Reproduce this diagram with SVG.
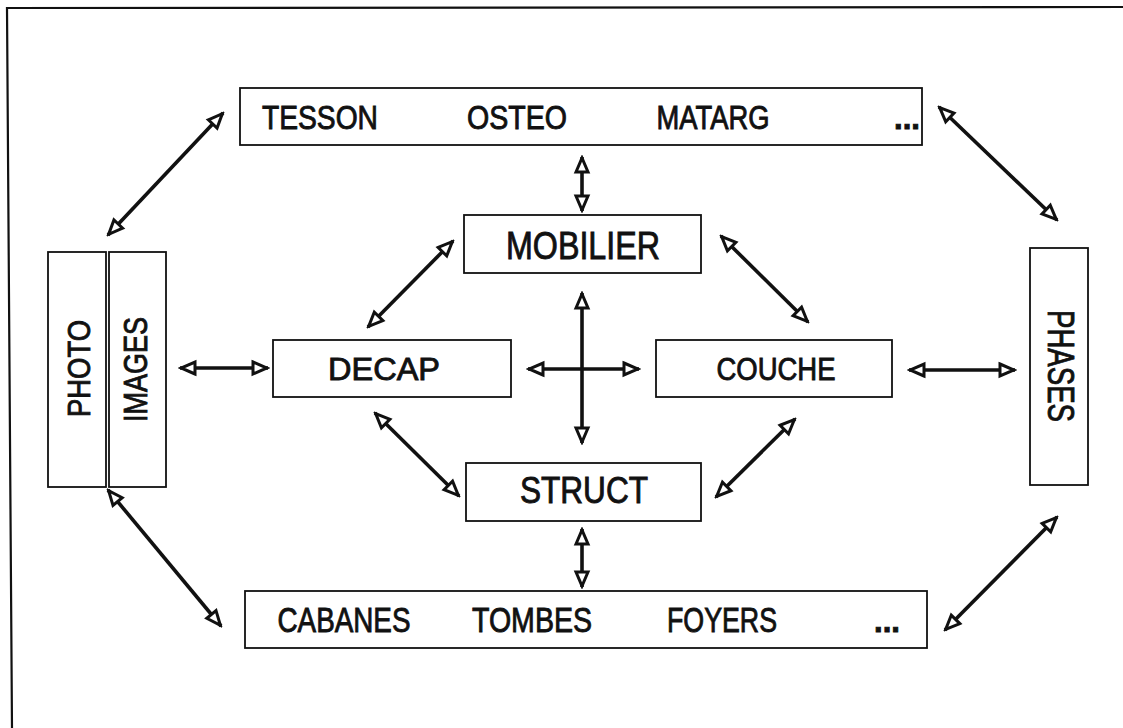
<svg xmlns="http://www.w3.org/2000/svg" width="1123" height="728" viewBox="0 0 1123 728">
<style>
.box{fill:#fff;stroke:#111;stroke-width:1.8}
.t{font-family:"Liberation Sans",Arial,sans-serif;fill:#111;stroke:#111;stroke-width:0.9;text-anchor:middle}
.frame{fill:none;stroke:#111;stroke-width:2.2}
</style>
<defs>
<marker id="ah" viewBox="0 0 20 18" refX="18" refY="9" markerWidth="20" markerHeight="18" markerUnits="userSpaceOnUse" orient="auto-start-reverse">
<path d="M3,3 L17,9 L3,15 Z" fill="#fff" stroke="#111" stroke-width="3" stroke-linejoin="miter"/>
</marker>
</defs>
<rect width="1123" height="728" fill="#fff"/>
<path class="frame" d="M1123,7 L7,8 L12,728"/>

<g id="top-box">
<rect class="box" x="240" y="88" width="682" height="57"/>
<text class="t" x="320" y="129" font-size="34" textLength="116" lengthAdjust="spacingAndGlyphs">TESSON</text>
<text class="t" x="517" y="129" font-size="34" textLength="100" lengthAdjust="spacingAndGlyphs">OSTEO</text>
<text class="t" x="713" y="129" font-size="34" textLength="113" lengthAdjust="spacingAndGlyphs">MATARG</text>
<text class="t" x="907" y="129" font-size="31" font-weight="bold">...</text>
</g>
<g id="mobilier">
<rect class="box" x="464" y="215" width="237" height="58"/>
<text class="t" x="583" y="259" font-size="39" textLength="154" lengthAdjust="spacingAndGlyphs">MOBILIER</text>
</g>
<g id="decap">
<rect class="box" x="273" y="340" width="238" height="57"/>
<text class="t" x="384" y="380" font-size="32" textLength="112" lengthAdjust="spacingAndGlyphs">DECAP</text>
</g>
<g id="couche">
<rect class="box" x="656" y="340" width="236" height="57"/>
<text class="t" x="776" y="380" font-size="32" textLength="119" lengthAdjust="spacingAndGlyphs">COUCHE</text>
</g>
<g id="struct">
<rect class="box" x="466" y="463" width="235" height="58"/>
<text class="t" x="584" y="503" font-size="36" textLength="128" lengthAdjust="spacingAndGlyphs">STRUCT</text>
</g>
<g id="bottom-box">
<rect class="box" x="245" y="591" width="682" height="57"/>
<text class="t" x="344" y="632" font-size="35" textLength="133" lengthAdjust="spacingAndGlyphs">CABANES</text>
<text class="t" x="532" y="632" font-size="35" textLength="120" lengthAdjust="spacingAndGlyphs">TOMBES</text>
<text class="t" x="722" y="632" font-size="35" textLength="110" lengthAdjust="spacingAndGlyphs">FOYERS</text>
<text class="t" x="887" y="632" font-size="31" font-weight="bold">...</text>
</g>
<g id="photo">
<rect class="box" x="48" y="252" width="58" height="235"/>
<text class="t" transform="translate(90,368.5) rotate(-90)" font-size="32" textLength="97" lengthAdjust="spacingAndGlyphs">PHOTO</text>
</g>
<g id="images">
<rect class="box" x="109" y="252" width="57" height="235"/>
<text class="t" transform="translate(147,369.5) rotate(-90)" font-size="34" textLength="105" lengthAdjust="spacingAndGlyphs">IMAGES</text>
</g>
<g id="phases">
<rect class="box" x="1030" y="248" width="58" height="237"/>
<text class="t" transform="translate(1048,366) rotate(90)" font-size="37" textLength="112" lengthAdjust="spacingAndGlyphs">PHASES</text>
</g>

<g id="connectors" fill="none" stroke="#111" stroke-width="3.6" marker-start="url(#ah)" marker-end="url(#ah)">
<line x1="108" y1="235" x2="223" y2="113"/>
<line x1="939" y1="107" x2="1057" y2="220"/>
<line x1="582" y1="157" x2="582" y2="211"/>
<line x1="453" y1="241" x2="368" y2="327"/>
<line x1="721" y1="236" x2="808" y2="322"/>
<line x1="582" y1="293" x2="582" y2="443"/>
<line x1="528" y1="369" x2="639" y2="369"/>
<line x1="180" y1="368" x2="268" y2="368"/>
<line x1="909" y1="370" x2="1015" y2="370"/>
<line x1="375" y1="413" x2="459" y2="496"/>
<line x1="795" y1="419" x2="716" y2="497"/>
<line x1="582" y1="529" x2="582" y2="587"/>
<line x1="108" y1="490" x2="221" y2="626"/>
<line x1="1057" y1="517" x2="945" y2="630"/>
</g>
</svg>
